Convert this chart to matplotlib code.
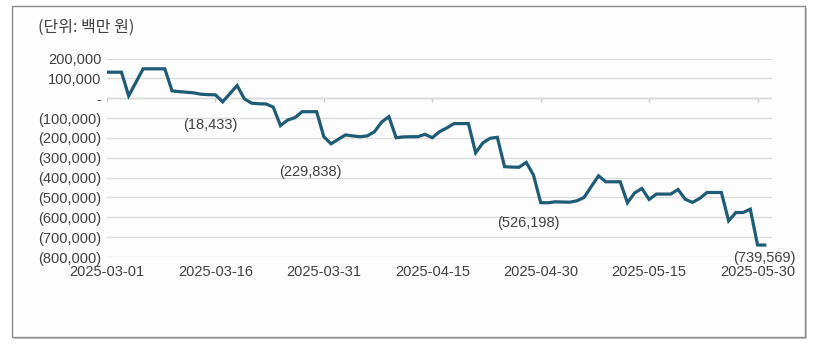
import numpy as np
import pandas as pd
import matplotlib
matplotlib.use('Agg')
import matplotlib.pyplot as plt
import matplotlib.dates as mdates
from matplotlib.ticker import FuncFormatter
from matplotlib.patches import Rectangle

plt.rcParams['font.family'] = ['Liberation Sans', 'Noto Sans CJK KR', 'DejaVu Sans']

# Daily cumulative value (unit: KRW million), starting 2025-03-01
start_date = '2025-03-01'
values = [
    131000, 131000, 131000, 12000, 80000, 148000, 148000, 148000, 148000, 37000,
    33000, 30000, 27000, 20000, 18000, 17000, -18433, 23000, 64000, -3000,
    -25000, -28000, -29000, -45000, -138000, -110000, -98000, -68000, -68000, -68000,
    -194000, -229838, -207000, -185000, -190000, -194000, -190000, -169000, -120000, -93000,
    -199000, -195000, -194000, -194000, -182000, -199000, -169000, -150000, -128000, -128000,
    -128000, -275000, -225000, -202000, -197000, -345000, -347000, -348000, -323000, -387000,
    -526198, -527000, -522000, -523000, -524000, -517000, -500000, -445000, -391000, -421000,
    -421000, -421000, -527000, -477000, -455000, -510000, -483000, -483000, -483000, -460000,
    -509000, -525000, -505000, -475000, -475000, -475000, -618000, -576000, -576000, -559000,
    -739569, -740000,
]
dates = pd.date_range(start_date, periods=len(values), freq='D')

# labelled points: (date, value, text offset in points)
label_dates = ['2025-03-17', '2025-04-01', '2025-04-30', '2025-05-30']
label_values = [-18433, -229838, -526198, -739569]
label_offsets = [(-9, -17), (-15, -20), (-9, -15), (5, -9)]

y_ticks = [200000, 100000, 0, -100000, -200000, -300000, -400000,
           -500000, -600000, -700000, -800000]
x_tick_dates = pd.date_range(start_date, '2025-05-30', freq='15D')

line_color = '#1e5b75'
text_color = '#404040'


def fmt(v, pos=None):
    if v == 0:
        return '-'
    if v < 0:
        return '({:,.0f})'.format(-v)
    return '{:,.0f}'.format(v)


fig = plt.figure(figsize=(8.15, 3.46), dpi=100)
fig.patch.set_facecolor('white')

# outer frame with a little shadow
fig.patches.append(Rectangle((14 / 815, 1 - 339 / 346), 793 / 815, 331 / 346,
                             transform=fig.transFigure, facecolor='#c8c8c8',
                             edgecolor='none', zorder=-2))
fig.patches.append(Rectangle((12 / 815, 1 - 337 / 346), 793 / 815, 331 / 346,
                             transform=fig.transFigure, facecolor='#fdfdfd',
                             edgecolor='#8a8a8a', linewidth=1.0, zorder=-1))

ax = fig.add_axes([107 / 815, 1 - 257 / 346, 665 / 815, 198.5 / 346])
ax.set_facecolor('none')

ax.plot(dates, values, color=line_color, linewidth=2.3, solid_joinstyle='miter', zorder=3)

ax.set_ylim(-800000, 200000)
ax.set_xlim(dates[0], pd.Timestamp('2025-06-01'))
ax.set_yticks(y_ticks)
ax.yaxis.set_major_formatter(FuncFormatter(fmt))
ax.set_xticks(x_tick_dates)
ax.xaxis.set_major_formatter(mdates.DateFormatter('%Y-%m-%d'))

ax.grid(axis='y', color='#dcdcdc', linewidth=1.0)
ax.grid(axis='x', visible=False)
for s in ax.spines.values():
    s.set_visible(False)
ax.tick_params(axis='both', length=0, labelsize=10.5, labelcolor=text_color)
ax.tick_params(axis='y', pad=4)
ax.tick_params(axis='x', pad=6)

# horizontal axis crosses at zero, with its small tick marks
ax.axhline(0, color='#c8c8c8', linewidth=1.0, zorder=1)
ax.vlines(x_tick_dates, -20000, 0, color='#c8c8c8', linewidth=1.0, zorder=1)

for d, v, off in zip(label_dates, label_values, label_offsets):
    ax.annotate(fmt(v), xy=(pd.Timestamp(d), v), xytext=off, textcoords='offset points',
                ha='center', va='center', fontsize=10.5, color=text_color, zorder=4)

fig.text(38 / 815, 1 - 27 / 346, '(단위: 백만 원)', fontsize=11.5, color=text_color,
         va='center', ha='left', family=['Noto Sans CJK KR', 'DejaVu Sans'])

fig.savefig('out.png', dpi=100)
